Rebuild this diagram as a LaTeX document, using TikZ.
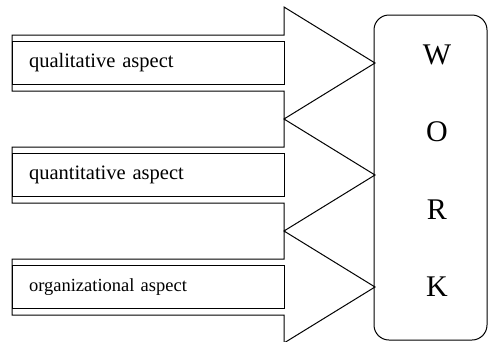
\documentclass[tikz,border=0pt]{standalone}
\usepackage{fontspec}
\setmainfont{Liberation Serif}
\usetikzlibrary{positioning}
\newcommand{\shaftx}{12}
\newcommand{\backx}{284}
\newcommand{\tipx}{375}
\newcommand{\shafth}{28}
\newcommand{\headh}{56}

\begin{document}
\begin{tikzpicture}[x=1pt,y=-1pt,line width=1pt,
    aspectbox/.style={draw,rectangle,minimum width=272pt,minimum height=43pt,
        text width=238pt,inner xsep=17pt,align=left},
    workbox/.style={draw,rectangle,rounded corners=15pt},
    letter/.style={font=\fontsize{30}{30}\selectfont}]

    \useasboundingbox (0,0) rectangle (488,341);

    % WORK box
    \node[workbox,minimum width=113pt,minimum height=325pt] (work) at (430.5,177.5) {};
    \foreach \y/\l in {55/W,132/O,210/R,287/K} {
        \node[letter] (\l) at (437,\y) {\l};
    }

    % three arrows with their aspects
    \foreach \c/\name/\txt/\fs in {63/qual/qualitative aspect/20.5,
                                     175/quan/quantitative aspect/20.5,
                                     287/org/organizational aspect/18.5} {
        \coordinate (tip\name) at (\tipx,\c);
        \draw (\shaftx,\c-\shafth) -- (\backx,\c-\shafth) -- (\backx,\c-\headh)
            -- (tip\name) -- (\backx,\c+\headh) -- (\backx,\c+\shafth)
            -- (\shaftx,\c+\shafth) -- cycle;
        \node[aspectbox,font=\fontsize{\fs}{\fs}\selectfont] (\name) at (148,\c) {\txt};
    }
\end{tikzpicture}
\end{document}
